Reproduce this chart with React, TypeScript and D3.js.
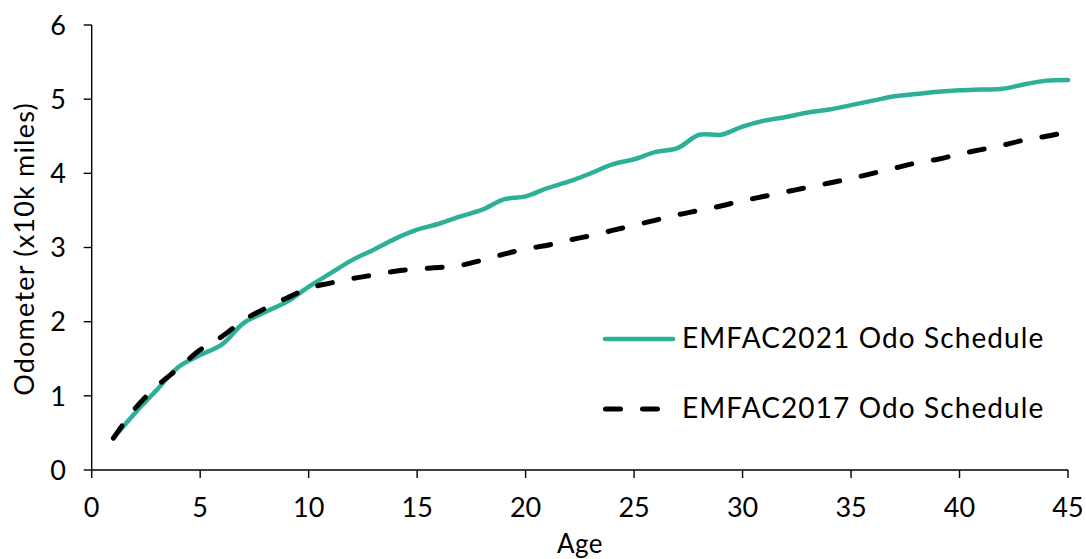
import React from "react";
import * as d3 from "d3";

const ages: number[] = Array.from({ length: 45 }, (_, i) => i + 1);
const emfac2021: number[] = [
  0.43, 0.77, 1.08, 1.39, 1.55, 1.69, 1.98, 2.13, 2.27, 2.47,
  2.65, 2.83, 2.97, 3.12, 3.24, 3.32, 3.42, 3.51, 3.65, 3.69,
  3.8, 3.89, 4.0, 4.12, 4.19, 4.29, 4.34, 4.52, 4.52, 4.63,
  4.71, 4.76, 4.82, 4.86, 4.92, 4.98, 5.04, 5.07, 5.1, 5.12,
  5.13, 5.14, 5.2, 5.25, 5.26,
];
const emfac2017: number[] = [
  0.43, 0.83, 1.13, 1.37, 1.62, 1.8, 2.02, 2.18, 2.32, 2.45,
  2.52, 2.58, 2.63, 2.68, 2.71, 2.73, 2.76, 2.83, 2.91, 2.98,
  3.03, 3.1, 3.16, 3.23, 3.3, 3.37, 3.44, 3.5, 3.56, 3.63,
  3.69, 3.75, 3.81, 3.87, 3.93, 4.0, 4.07, 4.14, 4.19, 4.26,
  4.32, 4.38, 4.45, 4.5, 4.56,
];
const xTicks: number[] = [0, 5, 10, 15, 20, 25, 30, 35, 40, 45];
const yTicks: number[] = [0, 1, 2, 3, 4, 5, 6];
const seriesNames: string[] = ["EMFAC2021 Odo Schedule", "EMFAC2017 Odo Schedule"];

const W = 1086;
const H = 559;
const FONT = "Lato, 'Noto Sans', sans-serif";

export default function App() {
  const x = d3.scaleLinear().domain([0, 45]).range([91.7, 1068]);
  const y = d3.scaleLinear().domain([0, 6]).range([470, 25]);
  const line = d3
    .line<number>()
    .x((_, i) => x(ages[i]))
    .y((d) => y(d))
    .curve(d3.curveCatmullRom.alpha(0.5));

  return (
    <svg
      width={W}
      height={H}
      style={{ position: "absolute", left: 0, top: 0, background: "#fff" }}
      fontFamily={FONT}
    >
      <rect width={W} height={H} fill="#fff" />
      {/* axes */}
      <line x1={x(0)} x2={x(45)} y1={y(0)} y2={y(0)} stroke="#000" strokeWidth={1.4} />
      <line x1={x(0)} x2={x(0)} y1={y(0)} y2={y(6)} stroke="#000" strokeWidth={1.4} />
      {yTicks.map((t) => (
        <g key={"y" + t}>
          <line x1={x(0) - 8} x2={x(0)} y1={y(t)} y2={y(t)} stroke="#000" strokeWidth={1.4} />
          <text x={66} y={y(t)} dy="0.36em" textAnchor="end" fontSize={27} fill="#000">
            {t}
          </text>
        </g>
      ))}
      {xTicks.map((t) => (
        <g key={"x" + t}>
          <line x1={x(t)} x2={x(t)} y1={y(0)} y2={y(0) + 8} stroke="#000" strokeWidth={1.4} />
          <text x={x(t)} y={517} textAnchor="middle" fontSize={27} fill="#000">
            {t}
          </text>
        </g>
      ))}
      <text x={580} y={553} textAnchor="middle" fontSize={26} letterSpacing={0.5} fill="#000">
        Age
      </text>
      <text
        transform={`translate(34,${249}) rotate(-90)`}
        textAnchor="middle"
        fontSize={27}
        letterSpacing={1.2}
        fill="#000"
      >
        Odometer (x10k miles)
      </text>
      {/* series */}
      <path d={line(emfac2021) || ""} fill="none" stroke="#2EAF98" strokeWidth={4.5} strokeLinecap="round" />
      <path
        d={line(emfac2017) || ""}
        fill="none"
        stroke="#000"
        strokeWidth={5}
        strokeDasharray="15 22"
        strokeLinecap="round"
      />
      {/* legend */}
      <line x1={605} x2={673} y1={339} y2={339} stroke="#2EAF98" strokeWidth={4.5} strokeLinecap="round" />
      <text x={682} y={348} fontSize={28} letterSpacing={1.1} fill="#000">
        {seriesNames[0]}
      </text>
      <line
        x1={605.5}
        x2={662}
        y1={409}
        y2={409}
        stroke="#000"
        strokeWidth={5}
        strokeDasharray="15 22"
        strokeLinecap="round"
      />
      <text x={682} y={418} fontSize={28} letterSpacing={1.1} fill="#000">
        {seriesNames[1]}
      </text>
    </svg>
  );
}
